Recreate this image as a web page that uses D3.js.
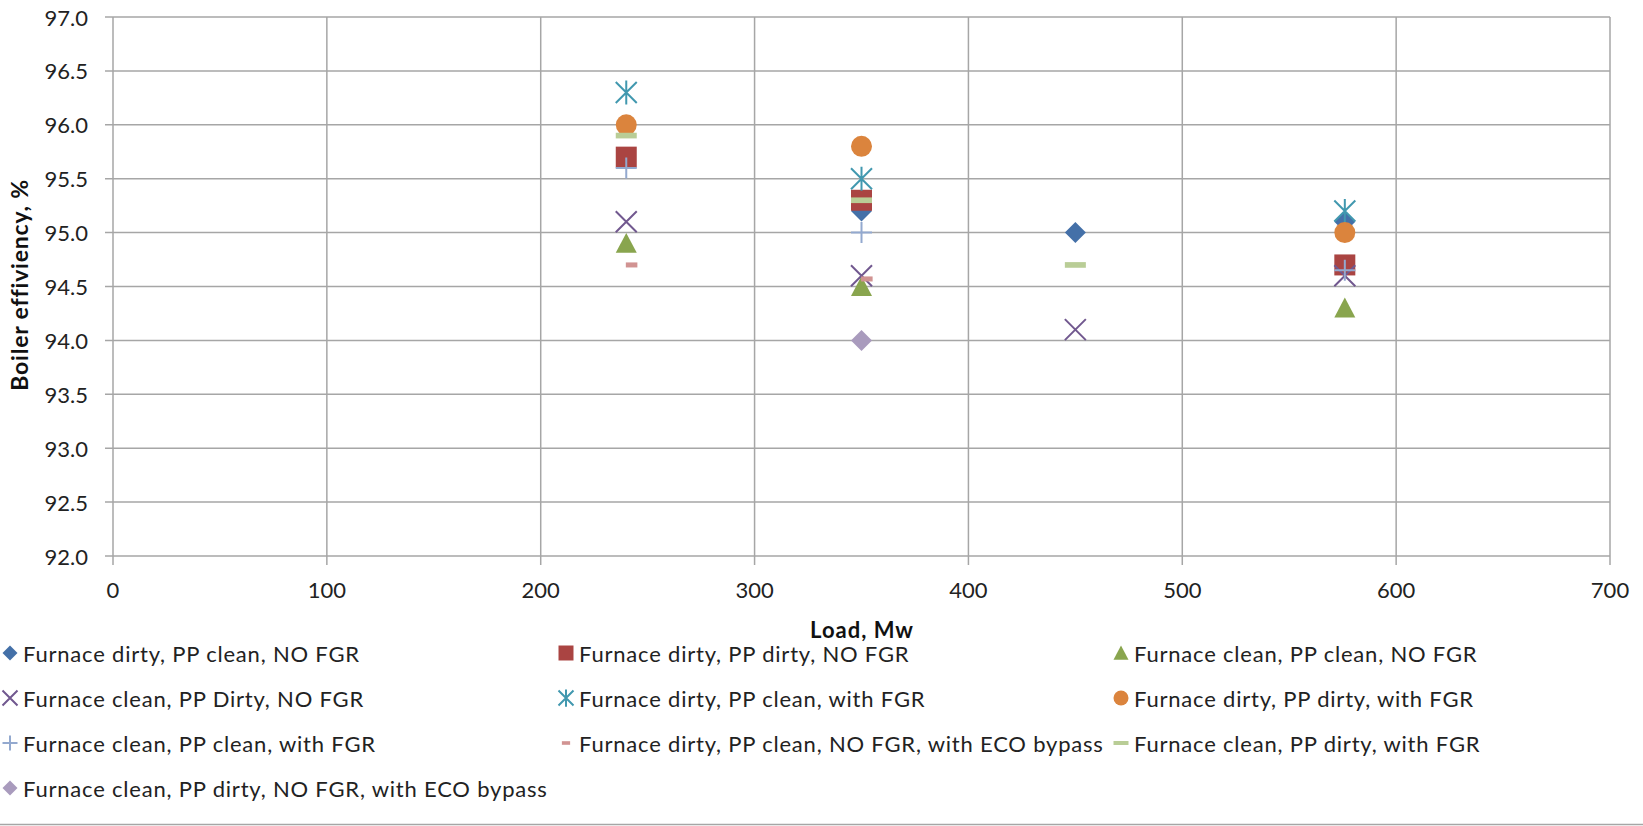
<!DOCTYPE html>
<html>
<head>
<meta charset="utf-8">
<script src="https://cdn.jsdelivr.net/npm/d3@7/dist/d3.min.js"></script>
<style>
  html, body { margin: 0; padding: 0; background: #fff; }
  svg { display: block; }
</style>
</head>
<body>
<svg id="chart"></svg>
<script>
'use strict';

// ---- data ----
var xTicks = [0, 100, 200, 300, 400, 500, 600, 700];
var yTicks = [92.0, 92.5, 93.0, 93.5, 94.0, 94.5, 95.0, 95.5, 96.0, 96.5, 97.0];

var seriesNames = [
  'Furnace dirty, PP clean, NO FGR',
  'Furnace dirty, PP dirty, NO FGR',
  'Furnace clean, PP clean, NO FGR',
  'Furnace clean, PP Dirty, NO FGR',
  'Furnace dirty, PP clean, with FGR',
  'Furnace dirty, PP dirty, with FGR',
  'Furnace clean, PP clean, with FGR',
  'Furnace dirty, PP clean, NO FGR, with ECO bypass',
  'Furnace clean, PP dirty, with FGR',
  'Furnace clean, PP dirty, NO FGR, with ECO bypass'
];

var dirtyCleanNoFgr = [[350, 95.2], [450, 95.0], [576, 95.1]];
var dirtyDirtyNoFgr = [[240, 95.7], [350, 95.3], [576, 94.7]];
var cleanCleanNoFgr = [[240, 94.9], [350, 94.5], [576, 94.3]];
var cleanDirtyNoFgr = [[240, 95.1], [350, 94.6], [450, 94.1], [576, 94.6]];
var dirtyCleanFgr = [[240, 96.3], [350, 95.5], [576, 95.2]];
var dirtyDirtyFgr = [[240, 96.0], [350, 95.8], [576, 95.0]];
var cleanCleanFgr = [[240, 95.6], [350, 95.0], [576, 94.65]];
var dirtyCleanNoFgrEco = [[242.5, 94.7], [352.5, 94.57]];
var cleanDirtyFgr = [[240, 95.9], [350, 95.3], [450, 94.7]];
var cleanDirtyNoFgrEco = [[350, 94.0]];

var seriesValues = [
  dirtyCleanNoFgr, dirtyDirtyNoFgr, cleanCleanNoFgr, cleanDirtyNoFgr, dirtyCleanFgr,
  dirtyDirtyFgr, cleanCleanFgr, dirtyCleanNoFgrEco, cleanDirtyFgr, cleanDirtyNoFgrEco
];

var seriesShapes = ['diamond', 'square', 'triangle', 'cross', 'asterisk',
  'circle', 'plus', 'shortdash', 'dash', 'diamond'];
var seriesColors = ['#4470a8', '#aa4442', '#89a54e', '#71588f', '#4198af',
  '#db843d', '#93a9cf', '#d19392', '#b9cd96', '#a99bbd'];

// ---- layout ----
var width = 1643, height = 826;
var plot = { left: 113, right: 1610, top: 17, bottom: 556 };
var fontFamily = 'Lato, "Open Sans", sans-serif';
var gridColor = '#a6a6a6';

var svg = d3.select('#chart')
  .attr('width', width)
  .attr('height', height)
  .style('font-family', fontFamily);

var x = d3.scaleLinear().domain([0, 700]).range([plot.left, plot.right]);
var y = d3.scaleLinear().domain([92, 97]).range([plot.bottom, plot.top]);

function markerPath(shape, r) {
  switch (shape) {
    case 'diamond':
      return 'M0,' + (-r) + 'L' + r + ',0L0,' + r + 'L' + (-r) + ',0Z';
    case 'square':
      return 'M' + (-r) + ',' + (-r) + 'H' + r + 'V' + r + 'H' + (-r) + 'Z';
    case 'triangle':
      return 'M0,' + (-r) + 'L' + r + ',' + (r * 0.9) + 'L' + (-r) + ',' + (r * 0.9) + 'Z';
    case 'circle':
      return 'M' + (-r) + ',0A' + r + ',' + r + ' 0 1,0 ' + r + ',0A' + r + ',' + r + ' 0 1,0 ' + (-r) + ',0Z';
    case 'cross':
      return 'M' + (-r) + ',' + (-r) + 'L' + r + ',' + r + 'M' + (-r) + ',' + r + 'L' + r + ',' + (-r);
    case 'asterisk':
      return 'M' + (-r) + ',' + (-r) + 'L' + r + ',' + r + 'M' + (-r) + ',' + r + 'L' + r + ',' + (-r) +
        'M0,' + (-r * 1.15) + 'L0,' + (r * 1.15);
    case 'plus':
      return 'M' + (-r) + ',0H' + r + 'M0,' + (-r) + 'V' + r;
    case 'dash':
      return 'M' + (-r) + ',' + (-r * 0.27) + 'H' + r + 'V' + (r * 0.27) + 'H' + (-r) + 'Z';
    case 'shortdash':
      return 'M' + (-r * 0.55) + ',' + (-r * 0.24) + 'H' + (r * 0.55) + 'V' + (r * 0.24) + 'H' + (-r * 0.55) + 'Z';
  }
}

function isStroked(shape) {
  return shape === 'cross' || shape === 'asterisk' || shape === 'plus';
}

function drawMarker(sel, shape, color, r) {
  sel.append('path')
    .attr('d', markerPath(shape, r))
    .attr('fill', isStroked(shape) ? 'none' : color)
    .attr('stroke', isStroked(shape) ? color : 'none')
    .attr('stroke-width', isStroked(shape) ? 2 : 0);
}

// ---- grid ----
svg.append('g')
  .selectAll('line.hgrid')
  .data(yTicks)
  .enter()
  .append('line')
  .attr('x1', plot.left - 8)
  .attr('x2', plot.right)
  .attr('y1', function(d) { return y(d); })
  .attr('y2', function(d) { return y(d); })
  .attr('stroke', gridColor)
  .attr('stroke-width', 1.5);

svg.append('g')
  .selectAll('line.vgrid')
  .data(xTicks)
  .enter()
  .append('line')
  .attr('x1', function(d) { return x(d); })
  .attr('x2', function(d) { return x(d); })
  .attr('y1', plot.top)
  .attr('y2', plot.bottom + 9)
  .attr('stroke', gridColor)
  .attr('stroke-width', 1.5);

// ---- tick labels ----
svg.append('g')
  .selectAll('text')
  .data(yTicks)
  .enter()
  .append('text')
  .attr('x', 88)
  .attr('y', function(d) { return y(d); })
  .attr('text-anchor', 'end')
  .attr('dominant-baseline', 'central')
  .style('font-size', '22px')
  .style('fill', '#222')
  .text(function(d) { return d.toFixed(1); });

svg.append('g')
  .selectAll('text')
  .data(xTicks)
  .enter()
  .append('text')
  .attr('x', function(d) { return x(d); })
  .attr('y', 589)
  .attr('text-anchor', 'middle')
  .attr('dominant-baseline', 'central')
  .style('font-size', '22px')
  .style('fill', '#222')
  .text(function(d) { return d; });

// ---- axis titles ----
svg.append('text')
  .attr('transform', 'translate(19,285) rotate(-90)')
  .attr('text-anchor', 'middle')
  .attr('dominant-baseline', 'central')
  .style('font-size', '23px')
  .style('font-weight', 'bold')
  .style('letter-spacing', '0.8px')
  .style('fill', '#111')
  .text('Boiler effiviency, %');

svg.append('text')
  .attr('x', 862)
  .attr('y', 629)
  .attr('text-anchor', 'middle')
  .attr('dominant-baseline', 'central')
  .style('font-size', '22px')
  .style('font-weight', 'bold')
  .style('letter-spacing', '1px')
  .style('fill', '#111')
  .text('Load, Mw');

// ---- points ----
seriesValues.forEach(function(points, i) {
  var g = svg.append('g');
  points.forEach(function(p) {
    var m = g.append('g').attr('transform', 'translate(' + x(p[0]) + ',' + y(p[1]) + ')');
    drawMarker(m, seriesShapes[i], seriesColors[i], 10.5);
  });
});

// ---- legend ----
var legendCols = [10, 566, 1121];
var legendRows = [653, 698, 743, 788];

seriesNames.forEach(function(name, i) {
  var cx = legendCols[i % 3];
  var cy = legendRows[Math.floor(i / 3)];
  var item = svg.append('g').attr('transform', 'translate(' + cx + ',' + cy + ')');
  drawMarker(item, seriesShapes[i], seriesColors[i], 7.5);
  item.append('text')
    .attr('x', 13)
    .attr('y', 0)
    .attr('dominant-baseline', 'central')
    .style('font-size', '22px')
    .style('letter-spacing', '0.8px')
    .style('fill', '#222')
    .text(name);
});

// bottom border of the picture
svg.append('line')
  .attr('x1', 0)
  .attr('x2', width)
  .attr('y1', 824.5)
  .attr('y2', 824.5)
  .attr('stroke', '#a6a6a6')
  .attr('stroke-width', 1.5);
</script>
</body>
</html>
